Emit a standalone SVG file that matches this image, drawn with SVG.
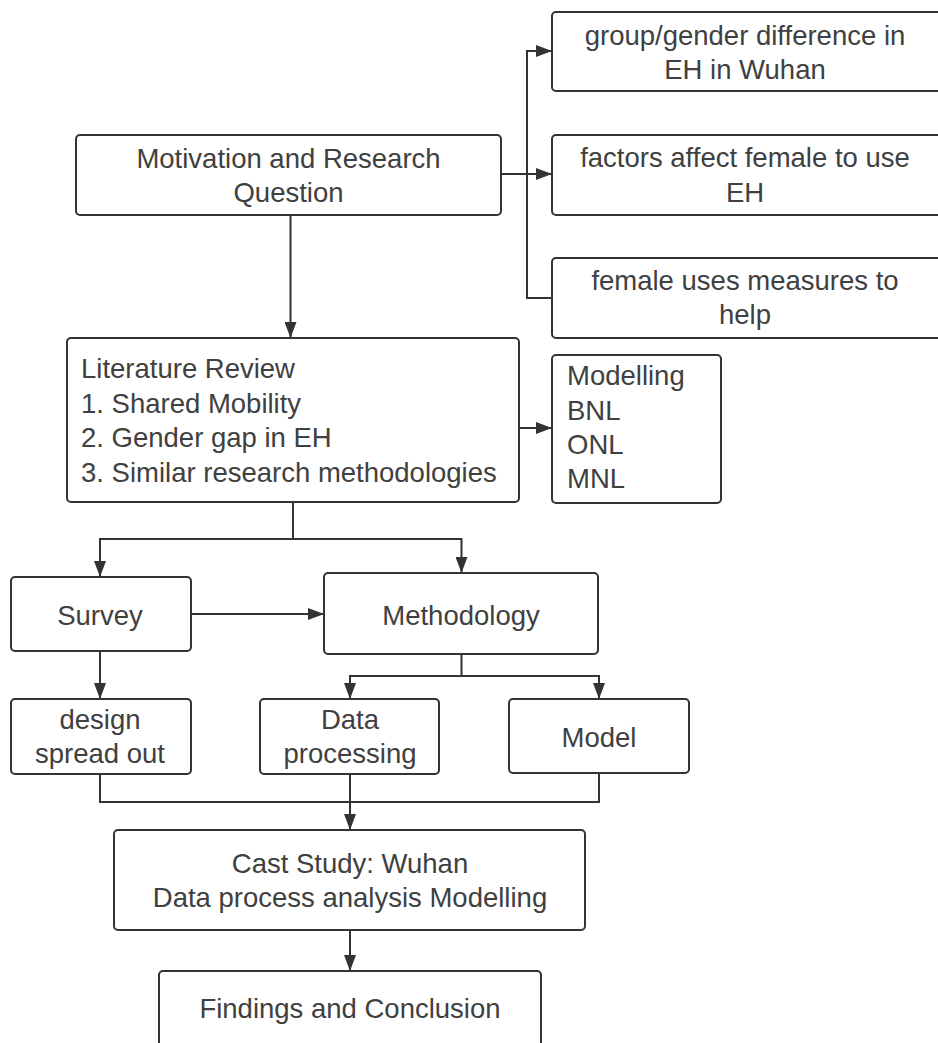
<svg xmlns="http://www.w3.org/2000/svg" width="938" height="1043" viewBox="0 0 938 1043">
  <defs>
    <marker id="arr" markerUnits="userSpaceOnUse" markerWidth="16" markerHeight="12" refX="16" refY="6" orient="auto">
      <path d="M0,0 L16,6 L0,12 z" fill="#333333"/>
    </marker>
    <style>
      .box { fill: #ffffff; stroke: #333333; stroke-width: 2; }
      .t { font-family: "Liberation Sans", Arial, sans-serif; font-size: 27.5px; fill: #404040; }
      .c { text-anchor: middle; }
      .conn { fill: none; stroke: #333333; stroke-width: 2; }
    </style>
  </defs>
  <rect width="938" height="1043" fill="#ffffff"/>

  <g id="connectors">
    <path class="conn" d="M501,174 H552" marker-end="url(#arr)"/>
    <path class="conn" d="M527,174 V51 H552" marker-end="url(#arr)"/>
    <path class="conn" d="M527,174 V298 H552"/>
    <path class="conn" d="M290.5,215 V338" marker-end="url(#arr)"/>
    <path class="conn" d="M519,428 H552" marker-end="url(#arr)"/>
    <path class="conn" d="M293,502 V539 H100 V577" marker-end="url(#arr)"/>
    <path class="conn" d="M293,539 H461.5 V573" marker-end="url(#arr)"/>
    <path class="conn" d="M191,614 H324" marker-end="url(#arr)"/>
    <path class="conn" d="M100,651 V699" marker-end="url(#arr)"/>
    <path class="conn" d="M461.5,654 V676 H350 V699" marker-end="url(#arr)"/>
    <path class="conn" d="M461.5,676 H599 V699" marker-end="url(#arr)"/>
    <path class="conn" d="M100,774 V802 H599 V773"/>
    <path class="conn" d="M350,774 V830" marker-end="url(#arr)"/>
    <path class="conn" d="M350,930 V971" marker-end="url(#arr)"/>
  </g>

  <g id="rq1">
    <rect class="box" x="552" y="12" width="400" height="79" rx="4"/>
    <text class="t c" x="745" y="45">group/gender difference in</text>
    <text class="t c" x="745" y="79">EH in Wuhan</text>
  </g>
  <g id="rq2">
    <rect class="box" x="552" y="135" width="400" height="80" rx="4"/>
    <text class="t c" x="745" y="167">factors affect female to use</text>
    <text class="t c" x="745" y="202">EH</text>
  </g>
  <g id="rq3">
    <rect class="box" x="552" y="258" width="400" height="80" rx="4"/>
    <text class="t c" x="745" y="290">female uses measures to</text>
    <text class="t c" x="745" y="324">help</text>
  </g>

  <g id="motivation">
    <rect class="box" x="76" y="135" width="425" height="80" rx="4"/>
    <text class="t c" x="288.5" y="168">Motivation and Research</text>
    <text class="t c" x="288.5" y="202">Question</text>
  </g>

  <g id="literature">
    <rect class="box" x="67" y="338" width="452" height="164" rx="4"/>
    <text class="t" x="81" y="378">Literature Review</text>
    <text class="t" x="81" y="412.5">1. Shared Mobility</text>
    <text class="t" x="81" y="447">2. Gender gap in EH</text>
    <text class="t" x="81" y="481.5">3. Similar research methodologies</text>
  </g>

  <g id="modelling">
    <rect class="box" x="552" y="355" width="169" height="148" rx="4"/>
    <text class="t" x="567" y="385">Modelling</text>
    <text class="t" x="567" y="420">BNL</text>
    <text class="t" x="567" y="454">ONL</text>
    <text class="t" x="567" y="488">MNL</text>
  </g>

  <g id="survey">
    <rect class="box" x="11" y="577" width="180" height="74" rx="4"/>
    <text class="t c" x="100" y="625">Survey</text>
  </g>

  <g id="methodology">
    <rect class="box" x="324" y="573" width="274" height="81" rx="4"/>
    <text class="t c" x="461" y="625">Methodology</text>
  </g>

  <g id="design">
    <rect class="box" x="11" y="699" width="180" height="75" rx="4"/>
    <text class="t c" x="100" y="729">design</text>
    <text class="t c" x="100" y="763">spread out</text>
  </g>

  <g id="dataprocessing">
    <rect class="box" x="260" y="699" width="179" height="75" rx="4"/>
    <text class="t c" x="350" y="729">Data</text>
    <text class="t c" x="350" y="763">processing</text>
  </g>

  <g id="model">
    <rect class="box" x="509" y="699" width="180" height="74" rx="4"/>
    <text class="t c" x="599" y="747">Model</text>
  </g>

  <g id="casestudy">
    <rect class="box" x="114" y="830" width="471" height="100" rx="4"/>
    <text class="t c" x="350" y="873">Cast Study: Wuhan</text>
    <text class="t c" x="350" y="907">Data process analysis Modelling</text>
  </g>

  <g id="findings">
    <rect class="box" x="159" y="971" width="382" height="100" rx="4"/>
    <text class="t c" x="350" y="1018">Findings and Conclusion</text>
  </g>
</svg>
